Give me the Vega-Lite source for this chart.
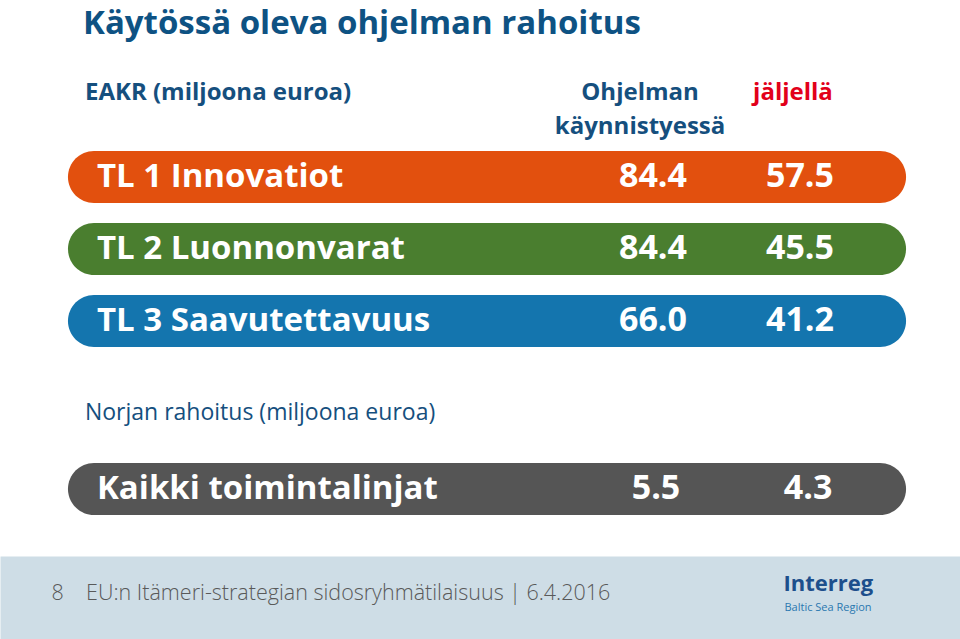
{
  "$schema": "https://vega.github.io/schema/vega-lite/v6.json",
  "width": 960,
  "height": 594,
  "autosize": "none",
  "padding": {"top": 45, "left": 0, "right": 0, "bottom": 0},
  "background": "#ffffff",
  "title": {
    "text": "Käytössä oleva ohjelman rahoitus",
    "anchor": "start",
    "frame": "group",
    "dx": 83,
    "offset": 4,
    "font": "Open Sans",
    "fontSize": 33,
    "fontWeight": "bold",
    "color": "#0E5283"
  },
  "config": {
    "view": {"stroke": null},
    "axisX": {"domain": false, "ticks": false, "labels": false, "grid": false},
    "axisY": {"domain": false, "ticks": false, "labels": false},
    "text": {"font": "Open Sans"}
  },
  "datasets": {
    "eakr": [
      {"label": "TL 1 Innovatiot", "start": 84.4, "remaining": 57.5},
      {"label": "TL 2 Luonnonvarat", "start": 84.4, "remaining": 45.5},
      {"label": "TL 3 Saavutettavuus", "start": 66.0, "remaining": 41.2}
    ],
    "eakrHeader": [
      {"label": "EAKR (miljoona euroa)", "startTitle": "Ohjelman\nkäynnistyessä", "remainingTitle": "jäljellä"}
    ],
    "norja": [
      {"label": "Kaikki toimintalinjat", "start": 5.5, "remaining": 4.3}
    ],
    "norjaHeader": [
      {"label": "Norjan rahoitus (miljoona euroa)"}
    ]
  },
  "layer": [
    {
      "encoding": {
        "y": {
          "field": "label",
          "type": "nominal",
          "scale": {
            "domain": ["EAKR (miljoona euroa)", "TL 1 Innovatiot", "TL 2 Luonnonvarat", "TL 3 Saavutettavuus"],
            "range": [34, 302],
            "paddingInner": 0.2778,
            "paddingOuter": 0
          },
          "axis": {
            "orient": "left",
            "grid": false,
            "title": "Interreg",
            "titleAngle": 0,
            "titleX": 783,
            "titleY": 538,
            "titleAlign": "left",
            "titleBaseline": "middle",
            "titleFont": "Open Sans",
            "titleFontSize": 22,
            "titleFontWeight": "bold",
            "titleColor": "#1D4F8C"
          }
        }
      },
      "layer": [
        {
          "data": {"name": "eakr"},
          "mark": {"type": "bar", "cornerRadius": 26},
          "encoding": {
            "x": {
              "datum": 7.08,
              "type": "quantitative",
              "scale": {"domain": [0, 100], "range": [0, 960], "nice": false, "zero": false},
              "axis": {
                "title": "8\u00a0\u00a0\u00a0\u00a0EU:n Itämeri-strategian sidosryhmätilaisuus | 6.4.2016",
                "titleX": 51,
                "titleY": -46,
                "titleAlign": "left",
                "titleBaseline": "middle",
                "titleFont": "Open Sans",
                "titleFontSize": 21.5,
                "titleFontWeight": 300,
                "titleColor": "#595959"
              }
            },
            "x2": {"datum": 94.38},
            "color": {
              "field": "label",
              "type": "nominal",
              "scale": {
                "domain": ["TL 1 Innovatiot", "TL 2 Luonnonvarat", "TL 3 Saavutettavuus", "Kaikki toimintalinjat"],
                "range": ["#E2500E", "#4A7E2F", "#1475AE", "#555555"]
              },
              "legend": null
            }
          }
        },
        {
          "data": {"name": "eakr"},
          "mark": {"type": "text", "align": "left", "baseline": "middle", "fontSize": 33, "fontWeight": "bold", "color": "#ffffff"},
          "encoding": {
            "x": {"datum": 10.1, "type": "quantitative"},
            "text": {"field": "label", "type": "nominal"}
          }
        },
        {
          "data": {"name": "eakr"},
          "mark": {"type": "text", "align": "center", "baseline": "middle", "fontSize": 34, "fontWeight": "bold", "color": "#ffffff"},
          "encoding": {
            "x": {"datum": 68.02, "type": "quantitative"},
            "text": {"field": "start", "type": "quantitative", "format": ".1f"}
          }
        },
        {
          "data": {"name": "eakr"},
          "mark": {"type": "text", "align": "center", "baseline": "middle", "fontSize": 34, "fontWeight": "bold", "color": "#ffffff"},
          "encoding": {
            "x": {"datum": 83.33, "type": "quantitative"},
            "text": {"field": "remaining", "type": "quantitative", "format": ".1f"}
          }
        },
        {
          "data": {"name": "eakrHeader"},
          "mark": {"type": "text", "align": "left", "baseline": "middle", "fontSize": 24, "fontWeight": "bold", "color": "#154F7E", "dy": -12},
          "encoding": {
            "x": {"datum": 8.85, "type": "quantitative"},
            "text": {"field": "label", "type": "nominal"}
          }
        },
        {
          "data": {"name": "eakrHeader"},
          "mark": {"type": "text", "align": "center", "baseline": "middle", "fontSize": 24, "fontWeight": "bold", "color": "#154F7E", "dy": -12, "lineBreak": "\n", "lineHeight": 34},
          "encoding": {
            "x": {"datum": 66.67, "type": "quantitative"},
            "text": {"field": "startTitle", "type": "nominal"}
          }
        },
        {
          "data": {"name": "eakrHeader"},
          "mark": {"type": "text", "align": "center", "baseline": "middle", "fontSize": 24, "fontWeight": "bold", "color": "#E2001A", "dy": -12},
          "encoding": {
            "x": {"datum": 82.6, "type": "quantitative"},
            "text": {"field": "remainingTitle", "type": "nominal"}
          }
        }
      ]
    },
    {
      "encoding": {
        "y": {
          "field": "label",
          "type": "nominal",
          "scale": {
            "domain": ["Norjan rahoitus (miljoona euroa)", "Kaikki toimintalinjat", "footer"],
            "range": [340, 548],
            "paddingInner": 0.3333,
            "paddingOuter": 0
          },
          "axis": {
            "orient": "right",
            "values": ["footer"],
            "grid": true,
            "gridColor": "#CEDDE6",
            "gridWidth": 84,
            "bandPosition": 1.11,
            "title": "Baltic Sea Region",
            "titleAngle": 0,
            "titleX": -176,
            "titleY": 562,
            "titleAlign": "left",
            "titleBaseline": "middle",
            "titleFont": "Open Sans",
            "titleFontSize": 11,
            "titleFontWeight": "normal",
            "titleColor": "#2A78B0"
          }
        }
      },
      "layer": [
        {
          "data": {"name": "norja"},
          "mark": {"type": "bar", "cornerRadius": 26},
          "encoding": {
            "x": {"datum": 7.08, "type": "quantitative"},
            "x2": {"datum": 94.38},
            "color": {
              "field": "label",
              "type": "nominal",
              "scale": {
                "domain": ["TL 1 Innovatiot", "TL 2 Luonnonvarat", "TL 3 Saavutettavuus", "Kaikki toimintalinjat"],
                "range": ["#E2500E", "#4A7E2F", "#1475AE", "#555555"]
              },
              "legend": null
            }
          }
        },
        {
          "data": {"name": "norja"},
          "mark": {"type": "text", "align": "left", "baseline": "middle", "fontSize": 33, "fontWeight": "bold", "color": "#ffffff"},
          "encoding": {
            "x": {"datum": 10.1, "type": "quantitative"},
            "text": {"field": "label", "type": "nominal"}
          }
        },
        {
          "data": {"name": "norja"},
          "mark": {"type": "text", "align": "center", "baseline": "middle", "fontSize": 34, "fontWeight": "bold", "color": "#ffffff"},
          "encoding": {
            "x": {"datum": 68.33, "type": "quantitative"},
            "text": {"field": "start", "type": "quantitative", "format": ".1f"}
          }
        },
        {
          "data": {"name": "norja"},
          "mark": {"type": "text", "align": "center", "baseline": "middle", "fontSize": 34, "fontWeight": "bold", "color": "#ffffff"},
          "encoding": {
            "x": {"datum": 84.17, "type": "quantitative"},
            "text": {"field": "remaining", "type": "quantitative", "format": ".1f"}
          }
        },
        {
          "data": {"name": "norjaHeader"},
          "mark": {"type": "text", "align": "left", "baseline": "middle", "fontSize": 23, "fontWeight": "normal", "color": "#154F7E", "dy": 2},
          "encoding": {
            "x": {"datum": 8.85, "type": "quantitative"},
            "text": {"field": "label", "type": "nominal"}
          }
        }
      ]
    }
  ],
  "resolve": {"scale": {"y": "independent"}}
}
